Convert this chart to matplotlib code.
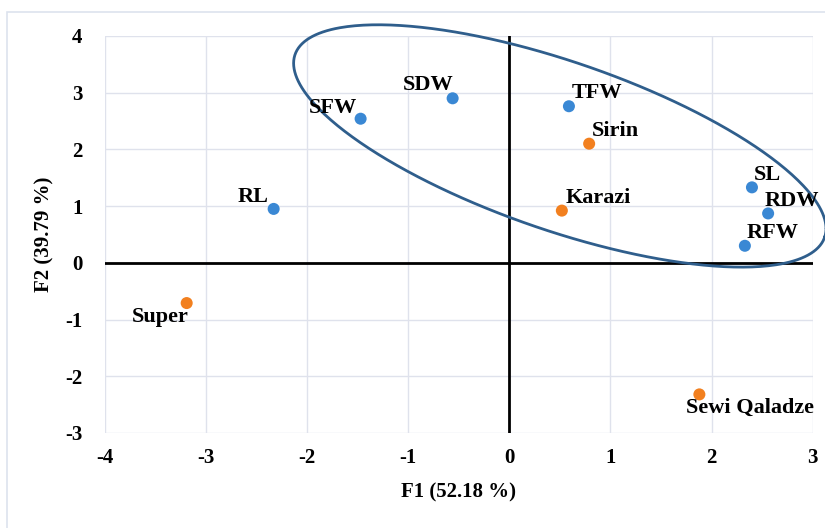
import numpy as np
import matplotlib.pyplot as plt
from matplotlib.patches import Rectangle

# PCA scores
names = ["SFW", "SDW", "TFW", "SL", "RDW", "RFW", "RL"]
f1 = [-1.47, -0.56, 0.59, 2.40, 2.56, 2.33, -2.33]
f2 = [2.54, 2.90, 2.76, 1.33, 0.87, 0.30, 0.95]

cult_names = ["Sirin", "Karazi", "Super", "Sewi Qaladze"]
cult_f1 = [0.79, 0.52, -3.19, 1.88]
cult_f2 = [2.10, 0.92, -0.71, -2.32]

x_ticks = [-4, -3, -2, -1, 0, 1, 2, 3]
y_ticks = [-3, -2, -1, 0, 1, 2, 3, 4]

# label offsets in pixels (dx, dy to baseline, ha)
label_pos = {
    "SFW": (-4, 6, "right"),
    "SDW": (1, 8, "right"),
    "TFW": (3, 8, "left"),
    "SL": (2, 7, "left"),
    "RDW": (-4, 7, "left"),
    "RFW": (2, 8, "left"),
    "RL": (-5, 7, "right"),
    "Sirin": (3, 8, "left"),
    "Karazi": (4, 8, "left"),
    "Super": (2, -19, "right"),
    "Sewi Qaladze": (-13, -19, "left"),
}

plt.rcParams['font.family'] = ['Liberation Serif', 'DejaVu Serif']
plt.rcParams['font.weight'] = 'bold'
plt.rcParams['axes.unicode_minus'] = False

fig = plt.figure(figsize=(8.25, 5.28), dpi=100)
ax = fig.add_axes([0.127, 0.180, 0.858, 0.752])

# outer chart frame
fig.patches.append(Rectangle((0.009, -0.01), 1.2, 0.988, transform=fig.transFigure,
                             fill=False, edgecolor='#dde3ee', linewidth=1.2))

ax.set_xlim(-4, 3)
ax.set_ylim(-3, 4)
ax.set_xticks(x_ticks)
ax.set_yticks(y_ticks)
ax.grid(True, color='#dfe2ec', linewidth=1)
ax.set_axisbelow(True)
for s in ax.spines.values():
    s.set_visible(False)
ax.tick_params(length=0, labelsize=15)
ax.tick_params(axis='y', pad=16)
ax.tick_params(axis='x', pad=11)
ax.axhline(0, color='black', linewidth=2, zorder=2)
ax.axvline(0, color='black', linewidth=2, zorder=2)

ax.scatter(f1, f2, s=75, color='#3a88d4', zorder=4, edgecolors='none')
ax.scatter(cult_f1, cult_f2, s=75, color='#f2801f', zorder=4, edgecolors='none')

for n, x, y in zip(names + cult_names, f1 + cult_f1, f2 + cult_f2):
    dx, dy, ha = label_pos[n]
    ax.annotate(n, (x, y), xytext=(dx, dy), textcoords='offset pixels',
                ha=ha, va='baseline', fontsize=16, fontweight='bold', zorder=5)

# group ellipse (defined in screen-like units, converted to data units)
sx = 101.1  # px per unit x
sy = 56.6   # px per unit y
cx, cy = 0.50, 2.06
a, b, theta = 280, 84, np.deg2rad(-19)
t = np.linspace(0, 2 * np.pi, 400)
ex = cx + (a * np.cos(t) * np.cos(theta) - b * np.sin(t) * np.sin(theta)) / sx
ey = cy + (a * np.cos(t) * np.sin(theta) + b * np.sin(t) * np.cos(theta)) / sy
ax.plot(ex, ey, color='#2f5e8c', linewidth=2, zorder=3, clip_on=False)

ax.set_xlabel('F1 (52.18 %)', fontsize=15, fontweight='bold', labelpad=10)
ax.set_ylabel('F2 (39.79 %)', fontsize=15, fontweight='bold', labelpad=8)

fig.savefig('out.png', dpi=100)
